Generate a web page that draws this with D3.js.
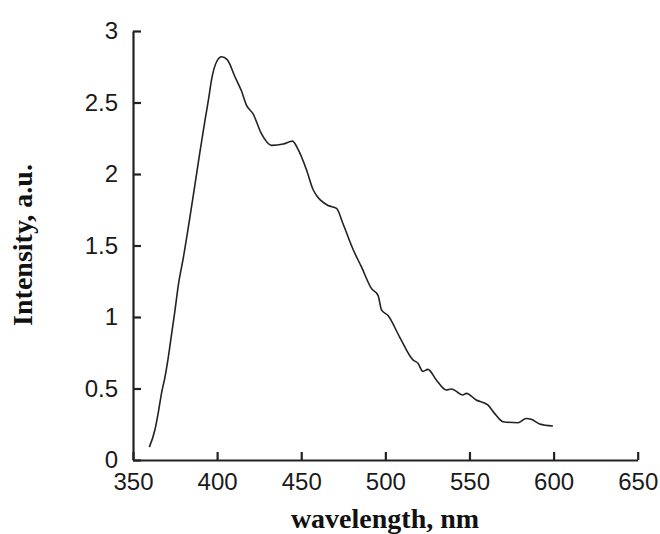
<!DOCTYPE html>
<html>
<head>
<meta charset="utf-8">
<script src="https://cdn.jsdelivr.net/npm/d3@7"></script>
<style>
  body { margin: 0; background: #fff; }
  svg { display: block; }
</style>
</head>
<body>
<div id="chart"></div>
<script>
// wavelength (nm) and intensity (a.u.)
const wavelength = [359.7, 363, 365, 367, 369, 371, 373, 375, 376.9, 380, 384, 387, 390, 393, 395,
  396.7, 399.7, 402.7, 406, 410.6, 414.5, 417.5, 421.4, 426.4, 432.3, 439.3, 444.8, 448.2, 453.1,
  457.1, 459.1, 466, 471, 474.9, 480.9, 485.8, 491.7, 495.7, 497.7, 501.6, 508.5, 516.4, 519.4,
  522.3, 525.3, 530.3, 536.2, 539.2, 546.1, 548.1, 554, 560.9, 564.9, 569.9, 578.8, 583.7,
  586.7, 591.7, 599.6];
const intensity = [0.09, 0.21, 0.33, 0.47, 0.58, 0.72, 0.885, 1.05, 1.22, 1.42, 1.71, 1.94, 2.17, 2.39, 2.53,
  2.66, 2.785, 2.82, 2.80, 2.68, 2.58, 2.48, 2.42, 2.28, 2.20, 2.21, 2.23, 2.17, 2.03,
  1.89, 1.85, 1.78, 1.76, 1.65, 1.47, 1.35, 1.20, 1.15, 1.05, 1.01, 0.86, 0.70, 0.676,
  0.62, 0.634, 0.56, 0.49, 0.497, 0.455, 0.466, 0.42, 0.385, 0.326, 0.268, 0.261, 0.29,
  0.285, 0.252, 0.238];
const xTicks = [350, 400, 450, 500, 550, 600, 650];
const yTicks = [0, 0.5, 1, 1.5, 2, 2.5, 3];

const width = 660;
const height = 534;
const tickLen = 8;

const x = d3.scaleLinear().domain([350, 650]).range([133, 637.7]);
const y = d3.scaleLinear().domain([0, 3]).range([460, 31]);

const svg = d3.select("#chart")
  .append("svg")
  .attr("width", width)
  .attr("height", height);

// eixo X (ticks para dentro)
const gx = svg.append("g")
  .attr("transform", `translate(0,${y(0)})`)
  .call(d3.axisBottom(x).tickValues(xTicks).tickFormat(d3.format("d"))
    .tickSizeInner(-tickLen).tickSizeOuter(0).tickPadding(13));

// eixo Y
const gy = svg.append("g")
  .attr("transform", `translate(${x(350)},0)`)
  .call(d3.axisLeft(y).tickValues(yTicks).tickFormat(d => String(d))
    .tickSizeInner(-tickLen).tickSizeOuter(0).tickPadding(15));

[gx, gy].forEach(g => {
  g.attr("color", "#222");
  g.select(".domain").attr("stroke-width", 2.2);
  g.selectAll(".tick line").attr("stroke-width", 2.2);
  g.selectAll(".tick text")
    .attr("fill", "#1a1a1a")
    .style("font-family", "'Liberation Sans', Arial, sans-serif")
    .style("font-size", "24px");
});

// curva do espectro
const line = d3.line()
  .x(d => x(d[0]))
  .y(d => y(d[1]))
  .curve(d3.curveMonotoneX);

svg.append("path")
  .datum(d3.zip(wavelength, intensity))
  .attr("fill", "none")
  .attr("stroke", "#222")
  .attr("stroke-width", 1.6)
  .attr("stroke-linejoin", "round")
  .attr("d", line);

// títulos dos eixos
svg.append("text")
  .attr("x", 385)
  .attr("y", 528)
  .attr("text-anchor", "middle")
  .style("font-family", "'Liberation Serif', 'Times New Roman', serif")
  .style("font-weight", "bold")
  .style("font-size", "28px")
  .attr("fill", "#111")
  .text("wavelength, nm");

svg.append("text")
  .attr("transform", "translate(32,245) rotate(-90)")
  .attr("text-anchor", "middle")
  .style("font-family", "'Liberation Serif', 'Times New Roman', serif")
  .style("font-weight", "bold")
  .style("font-size", "28px")
  .attr("fill", "#111")
  .text("Intensity, a.u.");
</script>
</body>
</html>
